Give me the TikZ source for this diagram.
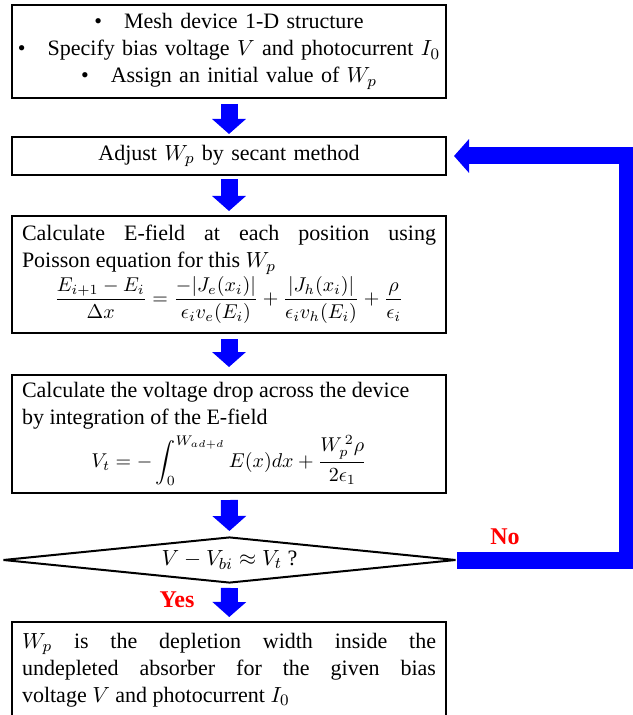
\documentclass[tikz,border=0pt]{standalone}
\usepackage{amsmath,amssymb}
\usepackage{fontspec}
\setmainfont{Liberation Serif}
\usepackage{tikz}
\usetikzlibrary{shapes.geometric, arrows.meta, positioning, calc}
\usepackage{xcolor}
\definecolor{flowBlue}{HTML}{0000FF}
\definecolor{flowRed}{HTML}{FF0000}
\newcommand{\eqsize}{\fontsize{10}{11}\selectfont}
\tikzset{
  stepbox/.style={draw=black, line width=1pt, fill=white, inner xsep=5pt,
                  inner ysep=2pt, minimum width=217pt, text width=207pt,
                  align=justify, font=\fontsize{11}{13.5}\selectfont},
  decision/.style={draw=black, line width=1pt, fill=white, diamond, aspect=10,
                   inner sep=0pt, minimum width=226.5pt, minimum height=23pt,
                   font=\fontsize{11}{13.5}\selectfont},
  blockarrow/.style={draw=flowBlue, line width=8.5pt, line join=miter,
                     -{Triangle[length=7.5pt, width=16.5pt]}},
  answer/.style={text=flowRed, font=\fontsize{12}{14}\selectfont\bfseries},
}

\begin{document}
\begin{tikzpicture}[x=0.5pt, y=-0.5pt]
\useasboundingbox (0,0) rectangle (632,715);
\node[stepbox, align=center, text width=212pt, inner xsep=2.5pt, minimum height=46.5pt] (init) at (229,51.5)
  {\textbullet\hspace{11pt}Mesh device 1-D structure\\
   \textbullet\hspace{11pt}Specify bias voltage $V$ and photocurrent $I_0$\\
   \textbullet\hspace{11pt}Assign an initial value of $W_p$};
\node[stepbox, align=center, minimum height=19pt] (adjust) at (229,156)
  {Adjust $W_p$ by secant method};
\node[stepbox, minimum height=58.5pt] (efield) at (229,274.5)
  {Calculate E-field at each position using\linebreak Poisson equation for this $W_p$\par
   \eqsize\centerline{$\displaystyle \frac{E_{i+1}-E_i}{\Delta x}=\frac{-|J_e(x_i)|}{\epsilon_i v_e(E_i)}+\frac{|J_h(x_i)|}{\epsilon_i v_h(E_i)}+\frac{\rho}{\epsilon_i}$}};
\node[stepbox, minimum height=59pt] (vdrop) at (229,434)
  {Calculate the voltage drop across the device\newline by integration of the E-field\par
   \vspace{2pt}\eqsize\centerline{$\displaystyle V_t=-\int_0^{W_{ad+d}}E(x)dx+\frac{W_p^{\,2}\rho}{2\epsilon_1}$}};
\node[decision] (check) at (229.5,560) {$V-V_{bi}\approx V_t$ ?};
\node[stepbox, minimum height=48pt] (result) at (229,670)
  {$W_p$ is the depletion width inside the\linebreak undepleted absorber for the given bias\linebreak voltage $V$ and photocurrent $I_0$};
\coordinate (turn) at (627,560);

\draw[blockarrow, shorten <=2.5pt, shorten >=1pt] (init) -- (adjust);
\draw[blockarrow, shorten <=1.5pt, shorten >=2pt] (adjust) -- (efield);
\draw[blockarrow, shorten <=2.5pt, shorten >=3.5pt] (efield) -- (vdrop);
\draw[blockarrow, shorten <=3pt, shorten >=2.5pt] (vdrop) -- (check);
\draw[blockarrow, shorten <=2pt, shorten >=2pt] (check) -- (result);
\draw[blockarrow, shorten >=3.5pt] (check.east) -- (turn) |- (adjust.east);

\node[answer] (no) at (505,537) {No};
\node[answer] (yes) at (177,600) {Yes};
\end{tikzpicture}
\end{document}
